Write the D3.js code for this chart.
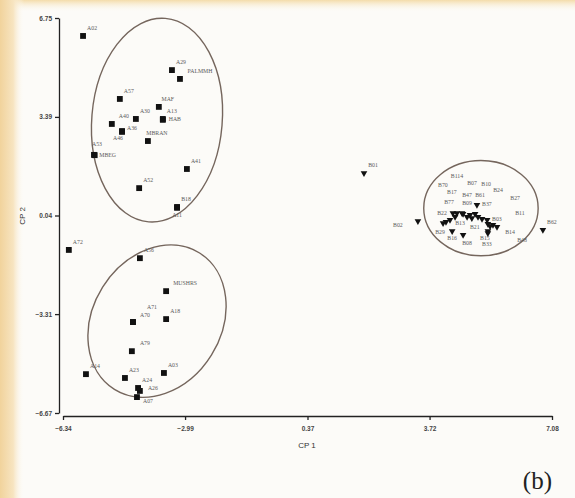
<!doctype html>
<html lang="en">
<head>
  <meta charset="utf-8">
  <title>CP scatter (b)</title>
  <script src="https://d3js.org/d3.v7.min.js"></script>
  <style>
    body { margin: 0; background: #fff; }
    .tick text { font-family: "Liberation Sans", Arial, sans-serif; font-size: 6.5px; font-weight: bold; fill: #444; }
    .domain, .tick line { stroke: #222; stroke-width: 1.3; }
    .lbl { font-family: "Liberation Serif", "Times New Roman", serif; font-size: 5.8px; fill: #5a5a5a; }
    .axTitle { font-family: "Liberation Sans", Arial, sans-serif; font-size: 8px; fill: #333; }
  </style>
</head>
<body>
<div class="chart-container"></div>
<script>
  // group A (squares)
  const namesA = ['A02', 'A29', 'PALMMH', 'A57', 'MAF', 'A30', 'A13', 'HAB', 'A40', 'A36', 'A46', 'MBRAN',
    'A53', 'MBEG', 'A41', 'A52', 'B18', 'A11',
    'A72', 'A56', 'MUSHRS', 'A71', 'A70', 'A18', 'A79', 'A14', 'A23', 'A03', 'A24', 'A26', 'A07'];
  const cp1A = [-5.79, -3.35, -3.13, -4.78, -3.71, -4.34, -3.60, -3.60, -5.00, -4.72, -4.72, -4.01,
    -5.49, -5.47, -2.94, -4.25, -3.21, -3.21,
    -6.18, -4.23, -3.51, -4.42, -4.42, -3.51, -4.45, -5.71, -4.64, -3.57, -4.28, -4.23, -4.31];
  const cp2A = [6.14, 4.98, 4.68, 4.00, 3.73, 3.32, 3.32, 3.29, 3.15, 2.91, 2.88, 2.57,
    2.10, 2.09, 1.62, 0.97, 0.33, 0.30,
    -1.13, -1.41, -2.53, -3.58, -3.58, -3.48, -4.57, -5.35, -5.48, -5.31, -5.82, -5.92, -6.13];

  // group B (triangles)
  const namesB = ['B01', 'B02', 'B62', 'B114', 'B70', 'B07', 'B10', 'B24', 'B17', 'B47', 'B61', 'B27', 'B77',
    'B09', 'B37', 'B22', 'B11', 'B03', 'B13', 'B21', 'B29', 'B14', 'B16', 'B15', 'B08', 'B48', 'B33'];
  const cp1B = [1.92, 3.40, 6.83, 4.61, 4.47, 4.83, 4.97, 5.16, 4.36, 4.75, 5.05, 5.30, 4.42,
    4.64, 5.02, 4.09, 5.46, 5.32, 4.28, 4.88, 4.17, 5.57, 4.34, 5.32, 4.64, 5.38, 5.32];
  const cp2B = [1.48, -0.15, -0.45, 0.12, 0.12, 0.06, 0.09, -0.08, 0.12, -0.01, -0.01, -0.11, -0.01,
    0.09, 0.40, -0.22, -0.28, -0.25, -0.11, -0.05, -0.18, -0.35, -0.49, -0.49, -0.62, -0.32, -0.56];

  const xTicks = [-6.34, -2.99, 0.37, 3.72, 7.08];
  const yTicks = [-6.67, -3.31, 0.04, 3.39, 6.75];

  // cluster ellipses: centre, radii (data units), tilt in degrees
  const ellipses = [
    { cx: -3.76, cy: 3.28, rx: 1.79, ry: 3.47, tilt: 4.7 },
    { cx: -3.76, cy: -3.55, rx: 1.76, ry: 2.73, tilt: 32 },
    { cx: 5.13, cy: 0.29, rx: 1.57, ry: 1.62, tilt: 0 }
  ];

  // label placement (px from marker), default is up-right
  const labelShift = {
    PALMMH: [20, -8], HAB: [12, -1], A40: [12, -8], A36: [10, -3], A46: [-4, 6], A53: [3, -11], MBEG: [13, 0],
    A11: [0, 7], MUSHRS: [19, -8], A71: [19, -15], A70: [12, -7], A79: [13, -8], A26: [13, -3], A07: [11, 4],
    B02: [-20, 4], B114: [-5, -37], B70: [-14, -28], B07: [2, -32], B10: [11, -30], B24: [16, -29],
    B17: [-1, -21], B47: [0, -22], B61: [2, -22], B27: [28, -22], B77: [-6, -15], B09: [4, -11],
    B37: [10, -1], B22: [-1, -10], B11: [27, -12], B03: [9, -5], B13: [10, 3], B21: [3, 9],
    B29: [-6, 10], B14: [13, 5], B16: [0, 7], B15: [-3, 7], B08: [4, 8], B48: [32, 14], B33: [-1, 11]
  };

  const width = 575, height = 498;

  const svg = d3.select('.chart-container').append('svg')
    .attr('width', width)
    .attr('height', height);

  const defs = svg.append('defs');
  const gl = defs.append('linearGradient').attr('id', 'gl').attr('x1', 0).attr('x2', 1).attr('y1', 0).attr('y2', 0);
  gl.append('stop').attr('offset', 0).attr('stop-color', '#f1d39c');
  gl.append('stop').attr('offset', 0.55).attr('stop-color', '#f7e4c0');
  gl.append('stop').attr('offset', 1).attr('stop-color', '#fdfbf6').attr('stop-opacity', 0);
  const gt = defs.append('linearGradient').attr('id', 'gt').attr('x1', 0).attr('x2', 0).attr('y1', 0).attr('y2', 1);
  gt.append('stop').attr('offset', 0).attr('stop-color', '#f4dcaa');
  gt.append('stop').attr('offset', 1).attr('stop-color', '#fdfbf6').attr('stop-opacity', 0);

  svg.append('rect').attr('width', width).attr('height', height).attr('fill', '#fcfbf8');
  svg.append('rect').attr('width', width).attr('height', 12).attr('fill', 'url(#gt)');
  svg.append('rect').attr('width', 24).attr('height', height).attr('fill', 'url(#gl)');

  const x = d3.scaleLinear().domain([-6.34, 7.08]).range([63, 552]);
  const y = d3.scaleLinear().domain([-6.67, 6.75]).range([413, 18]);

  svg.append('g')
    .attr('transform', 'translate(0,416)')
    .call(d3.axisBottom(x).tickValues(xTicks).tickSize(4).tickSizeOuter(0).tickFormat(d3.format('.2f')))
    .selectAll('.tick text').attr('dy', '1.2em');

  svg.append('g')
    .attr('transform', 'translate(59,0)')
    .call(d3.axisLeft(y).tickValues(yTicks).tickSize(4).tickSizeOuter(0).tickFormat(d3.format('.2f')));

  svg.append('text')
    .attr('class', 'axTitle')
    .attr('x', 307).attr('y', 448)
    .attr('text-anchor', 'middle')
    .text('CP 1');

  svg.append('text')
    .attr('class', 'axTitle')
    .attr('transform', 'translate(25,216) rotate(-90)')
    .attr('text-anchor', 'middle')
    .text('CP 2');

  svg.selectAll('ellipse.grp')
    .data(ellipses)
    .enter()
    .append('ellipse')
    .attr('class', 'grp')
    .attr('transform', d => `translate(${x(d.cx)},${y(d.cy)}) rotate(${d.tilt})`)
    .attr('rx', d => x(d.cx + d.rx) - x(d.cx))
    .attr('ry', d => y(d.cy - d.ry) - y(d.cy))
    .attr('fill', 'none')
    .attr('stroke', '#75665d')
    .attr('stroke-width', 1.4);

  const ptsA = namesA.map((n, i) => ({ name: n, cp1: cp1A[i], cp2: cp2A[i] }));
  const ptsB = namesB.map((n, i) => ({ name: n, cp1: cp1B[i], cp2: cp2B[i] }));

  const square = d3.symbol().type(d3.symbolSquare).size(34);
  const tri = d3.symbol().type(d3.symbolTriangle).size(19);

  svg.selectAll('path.sq')
    .data(ptsA)
    .enter()
    .append('path')
    .attr('class', 'sq')
    .attr('d', square)
    .attr('transform', d => `translate(${x(d.cp1)},${y(d.cp2)})`)
    .attr('fill', '#111');

  svg.selectAll('path.tri')
    .data(ptsB)
    .enter()
    .append('path')
    .attr('class', 'tri')
    .attr('d', tri)
    .attr('transform', d => `translate(${x(d.cp1)},${y(d.cp2)}) rotate(180)`)
    .attr('fill', '#111');

  svg.selectAll('text.lbl')
    .data(ptsA.concat(ptsB))
    .enter()
    .append('text')
    .attr('class', 'lbl')
    .attr('x', d => x(d.cp1) + (labelShift[d.name] || [9, -8])[0])
    .attr('y', d => y(d.cp2) + (labelShift[d.name] || [9, -8])[1] + 2)
    .attr('text-anchor', 'middle')
    .text(d => d.name);

  svg.append('text')
    .attr('x', 552).attr('y', 489)
    .attr('text-anchor', 'end')
    .style('font-family', '"Liberation Serif", "Times New Roman", serif')
    .style('font-size', '25px')
    .style('fill', '#222')
    .text('(b)');
</script>
</body>
</html>
